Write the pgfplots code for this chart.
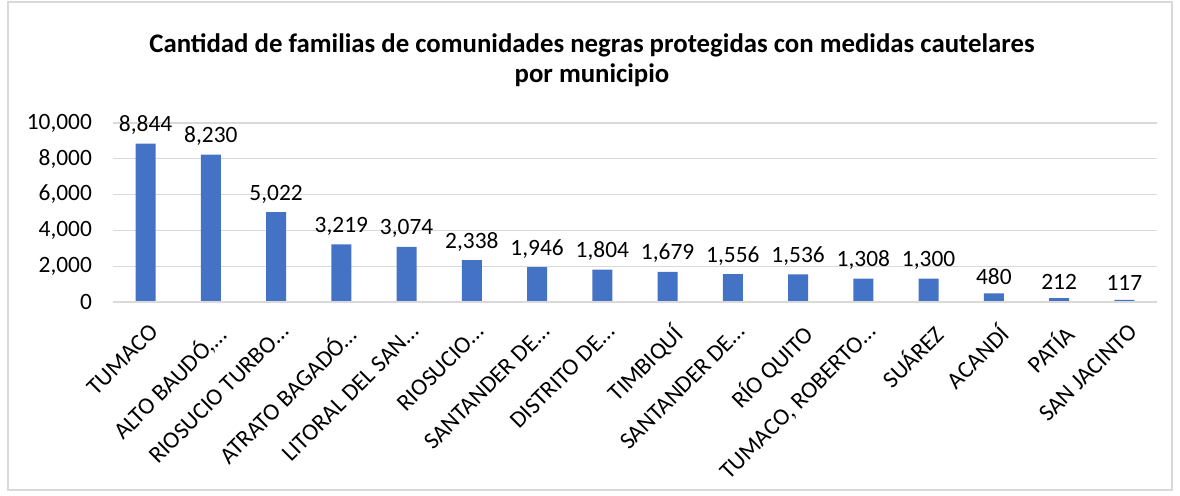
\documentclass[border=0pt]{standalone}
\usepackage{pgfplots}
\pgfplotsset{compat=1.18}
\usepackage{fontspec}
\setmainfont{Carlito}
\definecolor{barblue}{HTML}{4472C4}
\definecolor{gridgray}{HTML}{D9D9D9}
\begin{document}
\begin{tikzpicture}
\path[use as bounding box] (0,0) rectangle (590pt,248pt);
\draw[gridgray, line width=0.6pt] (4pt,3pt) rectangle (586pt,247pt);
\node[align=center, font=\fontsize{13.4}{15}\selectfont\bfseries] at (296pt,218pt)
  {Cantidad de familias de comunidades negras protegidas con medidas cautelares\\por municipio};
\begin{axis}[
  at={(56.5pt,97pt)}, anchor=south west,
  scale only axis, width=522pt, height=89.5pt,
  xmin=-0.5, xmax=15.5, ymin=0, ymax=10000,
  ytick={0,2000,4000,6000,8000,10000},
  scaled y ticks=false,
  ymajorgrids, grid style={gridgray, line width=0.6pt},
  axis line style={draw=none},
  major tick length=0pt,
  xtick={0,...,15},
  xticklabels={TUMACO, {ALTO BAUDÓ,…}, RIOSUCIO TURBO…, ATRATO BAGADÓ…, LITORAL DEL SAN…, RIOSUCIO…, SANTANDER DE…, DISTRITO DE…, TIMBIQUÍ, SANTANDER DE…, RÍO QUITO, {TUMACO, ROBERTO…}, SUÁREZ, ACANDÍ, PATÍA, SAN JACINTO},
  xticklabel style={rotate=45, anchor=north east, font=\fontsize{11.9}{14}\selectfont, inner sep=1pt, xshift=-5pt, yshift=-7pt},
  yticklabel style={font=\fontsize{11.7}{14}\selectfont, xshift=-7pt, /pgf/number format/fixed},
  /pgf/number format/assume math mode=true,
  /pgf/number format/.cd, 1000 sep={,},
  /pgfplots/.cd,
  ybar, bar width=10pt,
  nodes near coords,
  nodes near coords style={font=\fontsize{11.7}{14}\selectfont, /pgf/number format/assume math mode=true, /pgf/number format/1000 sep={,}, /pgf/number format/fixed, yshift=1pt},
  clip=false,
]
\addplot[fill=barblue, draw=none] coordinates {
(0,8844) (1,8230) (2,5022) (3,3219) (4,3074) (5,2338) (6,1946) (7,1804)
(8,1679) (9,1556) (10,1536) (11,1308) (12,1300) (13,480) (14,212) (15,117)};
\draw[gridgray, line width=0.8pt] (axis cs:-0.5,0) -- (axis cs:15.5,0);
\end{axis}
\end{tikzpicture}
\end{document}
